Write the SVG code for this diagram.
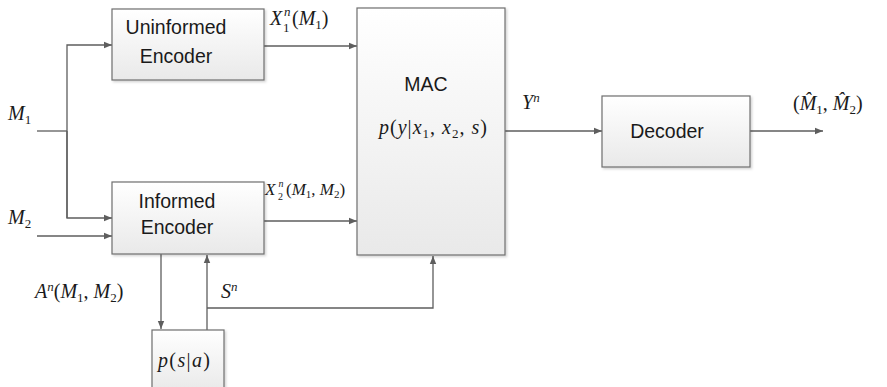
<svg xmlns="http://www.w3.org/2000/svg" width="887" height="387" viewBox="0 0 887 387">
<style>
.box{stroke:#6e6e6e;stroke-width:1.2;fill:url(#g)}
.ln{stroke:#5e5e5e;stroke-width:1.3;fill:none}
.ar{marker-end:url(#ah)}
.t{font-family:"Liberation Sans",Arial,sans-serif;font-size:19.5px;fill:#1a1a1a}
.m{font-family:"Liberation Serif","Times New Roman",serif;font-size:20px;fill:#1a1a1a}
.i{font-style:italic}
.s{font-size:13px}
</style>
<defs>
<linearGradient id="g" x1="0" y1="0" x2="0" y2="1">
<stop offset="0" stop-color="#ffffff"/>
<stop offset="1" stop-color="#e9e9e9"/>
</linearGradient>
<filter id="sh" x="-5%" y="-5%" width="115%" height="115%">
<feDropShadow dx="1.5" dy="1.5" stdDeviation="1" flood-color="#000" flood-opacity="0.18"/>
</filter>
<marker id="ah" viewBox="0 0 10 10" refX="10" refY="5" markerWidth="8" markerHeight="8" markerUnits="userSpaceOnUse" orient="auto">
<path d="M0,1 L10,5 L0,9 Z" fill="#5e5e5e"/>
</marker>
</defs>

<g id="connectors">
<path class="ln" d="M37,131 H67"/>
<path class="ln ar" d="M67,218 V45 H112"/>
<path class="ln ar" d="M67,131 V218 H112"/>
<path class="ln ar" d="M37,236 H112"/>
<path class="ln ar" d="M264,46 H357"/>
<path class="ln ar" d="M264,221 H357"/>
<path class="ln ar" d="M161,254 V329"/>
<path class="ln ar" d="M207,330 V255"/>
<path class="ln ar" d="M207,308 H433 V256"/>
<path class="ln ar" d="M505,131 H602"/>
<path class="ln ar" d="M750,131 H823"/>
</g>

<g id="uninformed-encoder">
<rect class="box" x="112" y="9" width="152" height="71" filter="url(#sh)"/>
<text class="t" x="176" y="34" text-anchor="middle">Uninformed</text>
<text class="t" x="176" y="63" text-anchor="middle">Encoder</text>
</g>

<g id="informed-encoder">
<rect class="box" x="112" y="182" width="152" height="72" filter="url(#sh)"/>
<text class="t" x="177" y="208" text-anchor="middle">Informed</text>
<text class="t" x="177" y="234" text-anchor="middle">Encoder</text>
</g>

<g id="mac">
<rect class="box" x="357" y="8" width="148" height="247" filter="url(#sh)"/>
<text class="t" x="426" y="91" text-anchor="middle">MAC</text>
<text class="m" x="379" y="134" textLength="108"><tspan class="i">p</tspan>(<tspan class="i">y</tspan>|<tspan class="i">x</tspan><tspan class="s" dy="4">1</tspan><tspan dy="-4">, </tspan><tspan class="i">x</tspan><tspan class="s" dy="4">2</tspan><tspan dy="-4">, </tspan><tspan class="i">s</tspan>)</text>
</g>

<g id="decoder">
<rect class="box" x="602" y="96" width="148" height="71" filter="url(#sh)"/>
<text class="t" x="667" y="138" text-anchor="middle">Decoder</text>
</g>

<g id="state-channel">
<rect class="box" x="152" y="330" width="72" height="62" filter="url(#sh)"/>
<text class="m" x="158" y="367" textLength="52"><tspan class="i">p</tspan>(<tspan class="i">s</tspan>|<tspan class="i">a</tspan>)</text>
</g>

<g id="labels">
<text class="m" x="8" y="120"><tspan class="i">M</tspan><tspan class="s" dy="4">1</tspan></text>
<text class="m" x="8" y="224"><tspan class="i">M</tspan><tspan class="s" dy="4">2</tspan></text>
<text class="m" x="270" y="25"><tspan class="i">X</tspan><tspan x="292">(</tspan><tspan class="i">M</tspan><tspan class="s" dy="4">1</tspan><tspan dy="-4">)</tspan></text>
<text class="m s i" x="284" y="16">n</text>
<text class="m s" x="283" y="32">1</text>
<text class="m" x="265" y="195" style="font-size:17px"><tspan class="i">X</tspan><tspan x="286">(</tspan><tspan class="i">M</tspan><tspan style="font-size:11px" dy="3">1</tspan><tspan dy="-3">, </tspan><tspan class="i">M</tspan><tspan style="font-size:11px" dy="3">2</tspan><tspan dy="-3">)</tspan></text>
<text class="m i" x="278.5" y="187" style="font-size:10px">n</text>
<text class="m" x="278" y="200" style="font-size:10px">2</text>
<text class="m" x="35" y="298"><tspan class="i">A</tspan><tspan class="s i" dy="-7">n</tspan><tspan dy="7">(</tspan><tspan class="i">M</tspan><tspan class="s" dy="4">1</tspan><tspan dy="-4">, </tspan><tspan class="i">M</tspan><tspan class="s" dy="4">2</tspan><tspan dy="-4">)</tspan></text>
<text class="m" x="221" y="298"><tspan class="i">S</tspan><tspan class="s i" dy="-7">n</tspan></text>
<text class="m" x="522" y="109"><tspan class="i">Y</tspan><tspan class="s i" dy="-7">n</tspan></text>
<text class="m" x="793" y="110">(<tspan class="i">M̂</tspan><tspan class="s" dy="4">1</tspan><tspan dy="-4">, </tspan><tspan class="i">M̂</tspan><tspan class="s" dy="4">2</tspan><tspan dy="-4">)</tspan></text>
</g>
</svg>
